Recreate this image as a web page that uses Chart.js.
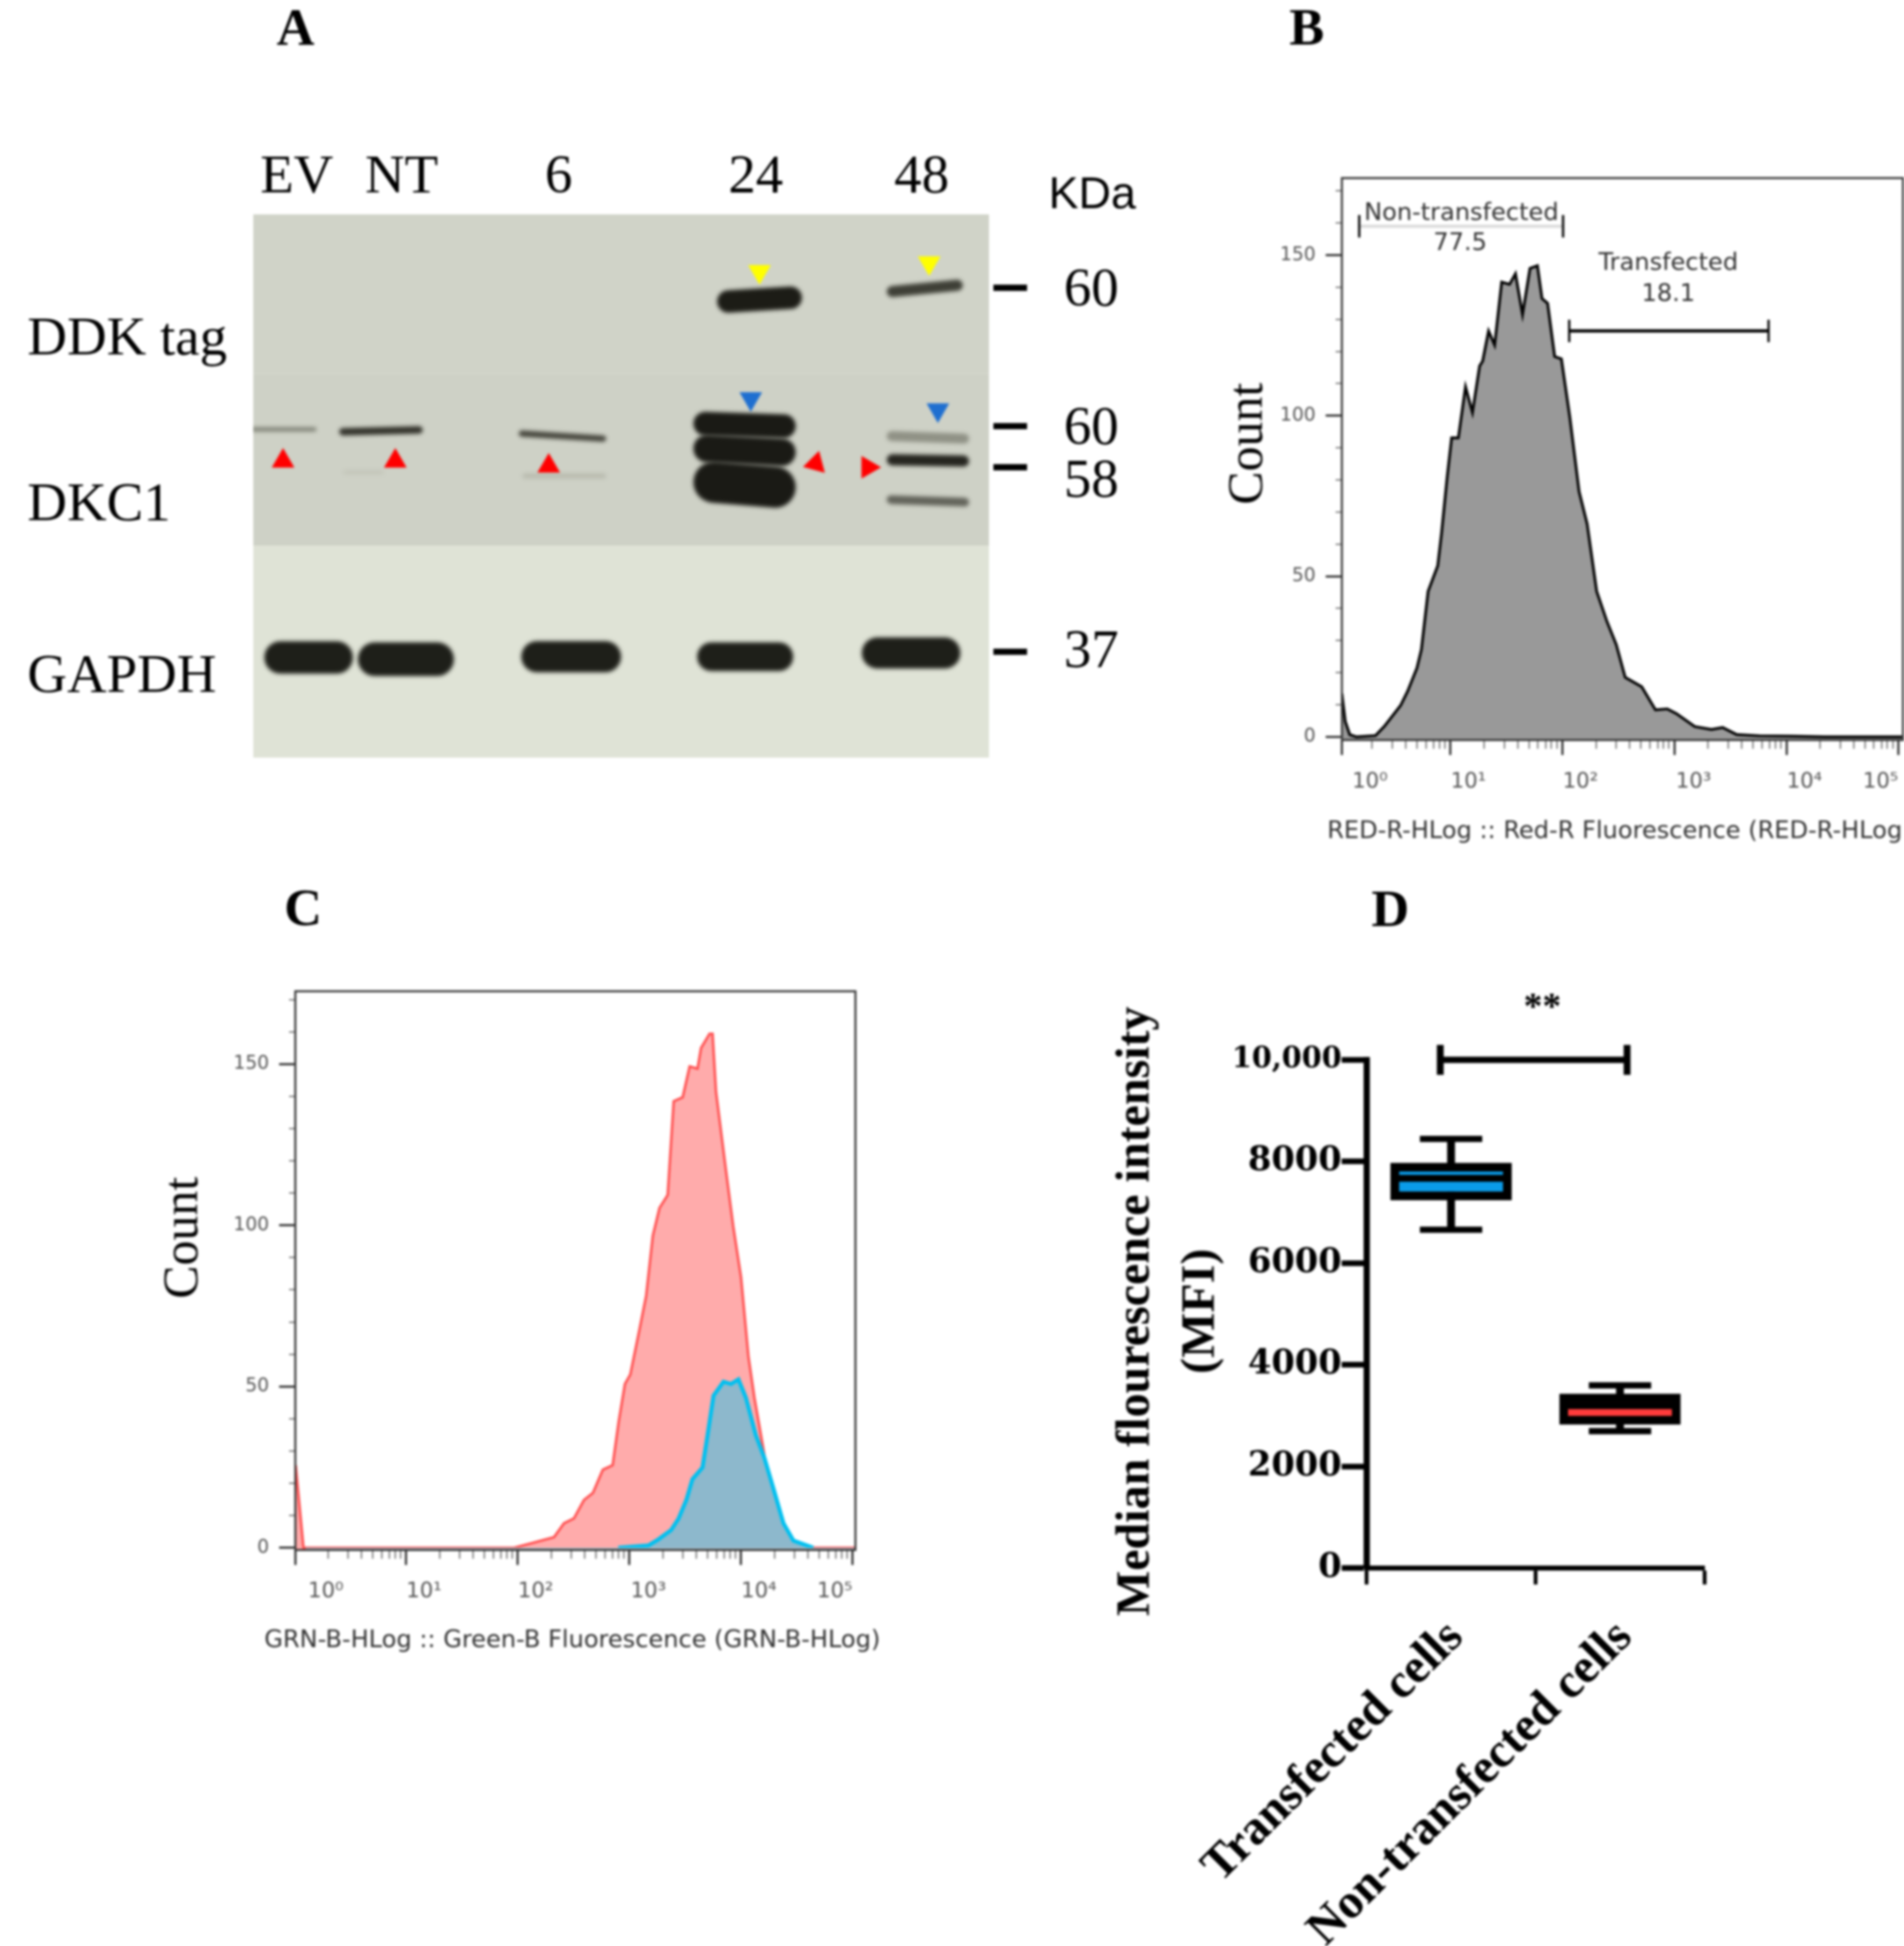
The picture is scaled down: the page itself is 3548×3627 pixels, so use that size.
<!DOCTYPE html>
<html>
<head>
<meta charset="utf-8">
<script src="https://cdn.jsdelivr.net/npm/chart.js@4"></script>
<style>
  html, body { margin: 0; background: #fff; }
  #page { position: relative; width: 3548px; height: 3627px; overflow: hidden; background: #fff; filter: blur(2px); }
  canvas { position: absolute; }
  .note { position: absolute; white-space: nowrap; line-height: 1; color: #000; transform-origin: center; }
</style>
</head>
<body>
<div id="page"></div>
<script>
// Panel A, western blot. Units are blot units: 0..590 across, 0..436 down
const laneLabels = ["EV", "NT", "6", "24", "48"];
const lanePositions = [35, 119, 245, 403, 536];
const rowLabels = ["DDK tag", "DKC1", "GAPDH"];
const rowPositions = [101, 234, 372];
const kdaLabels = ["60", "60", "58", "37"];
const kdaLabelPositions = [62, 173, 215, 352];
const kdaMarkPositions = [59, 170, 203, 351];

const bandStartX = [372, 508, 0, 69, 213, 216, 74, 353, 353, 353, 508, 508, 508, 9, 84, 215, 356, 488];
const bandEndX = [440, 569, 49, 136, 283, 283, 103, 435, 435, 435, 574, 574, 574, 80, 161, 295, 433, 567];
const bandStartY = [70, 62, 172.6, 174.5, 176, 210, 207, 168, 188, 215, 178, 197, 229, 355.6, 357, 355, 355, 352];
const bandEndY = [67, 57, 172.6, 173, 180, 210, 207, 170, 191, 219, 180, 198, 231, 355.6, 357, 355, 355, 352];
const bandThickness = [18, 9, 3.5, 6, 5, 4, 3, 19, 22, 33, 8, 9, 7, 26, 27, 25, 23, 25];
const bandShades = ["#1c1c16", "#3e3f36", "#7f8276", "#33332b", "#44443b", "#b8baae", "#c2c4b8", "#1a1a15", "#1a1a15", "#1a1a15",
  "#8f9185", "#25251f", "#62635a", "#1e1f19", "#1e1f19", "#1e1f19", "#1e1f19", "#1e1f19"];

const blotSections = [[0, 128], [128, 266], [266, 436]];
const blotSectionColors = ["#d0d3c8", "#ced1c6", "#dfe3d6"];

const yellowArrowX = [406, 542], yellowArrowY = [46, 39];
const blueArrowX = [399, 549], blueArrowY = [148, 157];
const redUpArrowX = [24, 114, 237], redUpArrowY = [198, 198, 202];
const redLeftArrowX = [451], redLeftArrowY = [200];
const redRightArrowX = [493], redRightArrowY = [203];

// Panel B, histogram (x is log10 of fluorescence)
const grayDecades = [0.03, 0.06, 0.10, 0.16, 0.33, 0.41, 0.555, 0.617, 0.70, 0.74, 0.80, 0.886, 0.92, 0.97, 1.01, 1.07, 1.134, 1.196, 1.26, 1.287,
  1.34, 1.394, 1.457, 1.527, 1.58, 1.643, 1.71, 1.776, 1.817, 1.867, 1.93, 1.99, 2.065, 2.148, 2.22, 2.305, 2.397, 2.48, 2.56, 2.707,
  2.83, 2.935, 3.018, 3.18, 3.33, 3.43, 3.555, 3.76, 4.05, 4.34, 5.03];
const grayCounts = [13.5, 4.8, 0.7, 0, 0.4, 3.3, 9.8, 14.2, 21.4, 27.2, 45.3, 53.3, 63.4, 80.8, 93.1, 93.1, 109, 101, 115.5, 117,
  126.4, 122, 141.6, 140.9, 144.2, 131.5, 145.9, 146.7, 136.5, 135, 118.4, 117.7, 99.6, 76.4, 66.3, 45.3, 35.9, 28.7, 18.5, 15.6,
  8.4, 8.7, 7.2, 3.2, 2.3, 2.9, 0.7, 0.3, 0.2, 0, 0];
const nonTransfectedGateX = [0.185, 2.005], nonTransfectedGateY = [159, 159];
const transfectedGateX = [2.06, 3.84], transfectedGateY = [126.4, 126.4];

// Panel C, overlaid histograms
const redDecades = [0.01, 0.08, 1.63, 1.967, 2.146, 2.325, 2.414, 2.503, 2.593, 2.673, 2.762, 2.85, 2.905, 2.96, 3.008, 3.084, 3.15, 3.21, 3.27, 3.343,
  3.397, 3.477, 3.54, 3.61, 3.642, 3.718, 3.745, 3.776, 3.865, 3.93, 4.0, 4.066, 4.12, 4.222, 4.29, 4.38, 4.514, 5.02];
const redCounts = [25.6, 0, 0, 0, 1.6, 3.3, 7.6, 9.1, 14.8, 17, 24.2, 25.6, 39.3, 50.8, 53.7, 66.6, 78.1, 96.8, 105.4, 109.4,
  138.5, 139.7, 149.3, 148.6, 155, 159.4, 159.4, 141.4, 117, 99.7, 83.9, 59.4, 46.5, 26.3, 13.4, 4, 0, 0];
const blueDecades = [2.90, 3.17, 3.26, 3.374, 3.44, 3.51, 3.565, 3.655, 3.70, 3.754, 3.843, 3.91, 3.977, 4.044, 4.133, 4.21, 4.29, 4.38, 4.47, 4.647];
const blueCounts = [0, 0.7, 2.6, 5.5, 9, 14.8, 21.3, 24.9, 34.9, 47.2, 51.5, 50.8, 52.2, 46.5, 34.9, 27.8, 18.4, 7.6, 2.2, 0];

// Histogram axes, shared by B and C
const countTicks = [0, 50, 100, 150];
const countMinorTicks = [10, 20, 30, 40, 60, 70, 80, 90, 110, 120, 130, 140, 160, 170];
const decadeTicks = [0, 1, 2, 3, 4, 5];
const decadeLabels = ["10\u2070", "10\u00b9", "10\u00b2", "10\u00b3", "10\u2074", "10\u2075"];
const decadeLabelPositions = [0.28, 1.16, 2.16, 3.17, 4.16, 4.84];
const decadeFractions = [0.30, 0.48, 0.60, 0.70, 0.78, 0.85, 0.90, 0.95];

// Panel D, box plot
const cellGroups = ["Transfected cells", "Non-transfected cells"];
const whiskerLow = [6659, 2697];
const boxLow = [7242, 2830];
const medians = [7670, 3200];
const boxHigh = [7971, 3431];
const whiskerHigh = [8445, 3597];
const mfiTicks = [0, 2000, 4000, 6000, 8000, 10000];
const mfiTickLabels = ["0", "2000", "4000", "6000", "8000", "10,000"];
const bracketX = [0.218, 0.771], bracketY = [10000, 10000];

// everything below is laid out in units of a 1527 wide drawing
const S = 3548 / 1527;
const SERIF = "'Liberation Serif'";
const SANS = "'DejaVu Sans'";
const page = document.getElementById("page");

Chart.defaults.animation = false;
Chart.defaults.responsive = false;
Chart.defaults.devicePixelRatio = 1;
Chart.defaults.plugins.legend.display = false;
Chart.defaults.plugins.tooltip.enabled = false;

function note(text, x, y, size, font, opts = {}) {
  const el = document.createElement("div");
  el.className = "note";
  el.textContent = text;
  el.style.left = x * S + "px";
  el.style.top = y * S + "px";
  el.style.fontFamily = font;
  el.style.fontSize = size * S + "px";
  el.style.fontWeight = opts.bold ? "bold" : "normal";
  el.style.color = opts.color || "#000";
  el.style.transform = `translate(-50%,-50%) rotate(${opts.rotate || 0}deg)`;
  page.appendChild(el);
}

// area = [left, top, right, bottom] of the plot area on the page
function makeCanvas(box, area) {
  const c = document.createElement("canvas");
  c.width = Math.round(box[2] * S);
  c.height = Math.round(box[3] * S);
  c.style.left = box[0] * S + "px";
  c.style.top = box[1] * S + "px";
  page.appendChild(c);
  return {
    canvas: c,
    margin: {
      left: (area[0] - box[0]) * S,
      top: (area[1] - box[1]) * S,
      right: (box[0] + box[2] - area[2]) * S,
      bottom: (box[1] + box[3] - area[3]) * S
    }
  };
}

const fixedTicks = values => scale => { scale.ticks = values.map(v => ({ value: v })); };
const widthOf = n => scale => { scale.width = n; };
const heightOf = n => scale => { scale.height = n; };
const toPoints = (xs, ys) => xs.map((x, i) => ({ x: x, y: ys[i] }));
// chart.js paints the first dataset last, these lists are written bottom layer first
const bottomUp = list => list.slice().reverse();
const noGrid = { display: false };

const framePlugin = {
  id: "frame",
  afterDatasetsDraw(chart) {
    const { ctx, chartArea: a } = chart;
    ctx.save();
    ctx.strokeStyle = "#333";
    ctx.lineWidth = 1.6 * S;
    ctx.strokeRect(a.left, a.top, a.right - a.left, a.bottom - a.top);
    ctx.restore();
  }
};

// soft edges for the blot bands
const bandBlurPlugin = {
  id: "bandBlur",
  beforeDatasetDraw(chart, args) {
    const blur = chart.data.datasets[args.index].blurBy;
    if (blur) {
      chart.ctx.save();
      chart.ctx.filter = `blur(${blur}px)`;
    }
  },
  afterDatasetDraw(chart, args) {
    if (chart.data.datasets[args.index].blurBy) chart.ctx.restore();
  }
};

function histScales(xMin, xMax, yMin, yMax, margin) {
  const minorX = [];
  decadeTicks.slice(0, 5).forEach(d => decadeFractions.forEach(f => minorX.push(d + f)));
  const majorX = decadeTicks.map(d => Math.max(d, xMin));
  const common = { type: "linear", border: { display: false } };
  return {
    x: {
      ...common, position: "bottom", min: xMin, max: xMax, weight: 1,
      afterBuildTicks: fixedTicks(decadeLabelPositions), afterFit: heightOf(margin.bottom),
      grid: { display: false },
      ticks: {
        autoSkip: false, maxRotation: 0, padding: 20 * S, color: "#555",
        font: { family: SANS, size: 17 * S },
        callback: v => decadeLabels[decadeLabelPositions.indexOf(v)]
      }
    },
    xMajor: {
      ...common, position: "bottom", min: xMin, max: xMax, weight: 0,
      afterBuildTicks: fixedTicks(majorX), afterFit: heightOf(0),
      grid: { drawOnChartArea: false, tickLength: 12 * S, tickWidth: 1.6 * S, tickColor: "#222" },
      ticks: { autoSkip: false, maxRotation: 0, callback: () => "" }
    },
    xMinor: {
      ...common, position: "bottom", min: xMin, max: xMax, weight: 0,
      afterBuildTicks: fixedTicks(minorX), afterFit: heightOf(0),
      grid: { drawOnChartArea: false, tickLength: 7 * S, tickWidth: 0.9 * S, tickColor: "#555" },
      ticks: { autoSkip: false, maxRotation: 0, callback: () => "" }
    },
    y: {
      ...common, position: "left", min: yMin, max: yMax, weight: 1,
      afterBuildTicks: fixedTicks(countTicks), afterFit: widthOf(margin.left),
      grid: { drawOnChartArea: false, tickLength: 13 * S, tickWidth: 1.6 * S, tickColor: "#222" },
      ticks: { autoSkip: false, padding: 8 * S, color: "#555", font: { family: SANS, size: 15 * S }, callback: v => String(v) }
    },
    yMinor: {
      ...common, position: "left", min: yMin, max: yMax, weight: 0,
      afterBuildTicks: fixedTicks(countMinorTicks), afterFit: widthOf(0),
      grid: { drawOnChartArea: false, tickLength: 5 * S, tickWidth: 0.9 * S, tickColor: "#555" },
      ticks: { autoSkip: false, callback: () => "" }
    }
  };
}

function arrows(xs, ys, color, rotation, radius) {
  return {
    data: toPoints(xs, ys), showLine: false, clip: false, blurBy: 1,
    pointStyle: "triangle", pointRotation: rotation, pointRadius: radius * S, pointHoverRadius: 0,
    pointBackgroundColor: color, pointBorderWidth: 0
  };
}

function drawBlot() {
  const { canvas, margin } = makeCanvas([0, 100, 960, 560], [203, 172, 793, 608]);
  const datasets = [];
  blotSections.forEach((sec, i) => {
    datasets.push({
      data: toPoints([0, 590], [sec[0], sec[0]]), borderWidth: 0, pointRadius: 0,
      fill: { value: sec[1] }, backgroundColor: blotSectionColors[i]
    });
  });
  bandStartX.forEach((x0, i) => {
    const t = bandThickness[i];
    const endsIn = t > 3.5 ? t / 2 : 0;
    datasets.push({
      data: toPoints([x0 + endsIn, bandEndX[i] - endsIn], [bandStartY[i], bandEndY[i]]),
      borderColor: bandShades[i], borderWidth: t * S, borderCapStyle: "round",
      pointRadius: 0, tension: 0, blurBy: 1.6 * S
    });
  });
  datasets.push(arrows(yellowArrowX, yellowArrowY, "#ffff00", 180, 10.5));
  datasets.push(arrows(blueArrowX, blueArrowY, "#1f6fd0", 180, 10.5));
  datasets.push(arrows(redUpArrowX, redUpArrowY, "#ff0000", 0, 10.5));
  datasets.push(arrows(redLeftArrowX, redLeftArrowY, "#ff0000", 255, 10.5));
  datasets.push(arrows(redRightArrowX, redRightArrowY, "#ff0000", 90, 10.5));
  // one dataset per mark, they all sit right of the x range
  kdaMarkPositions.forEach(y => {
    datasets.push({
      data: toPoints([607], [y]), showLine: false, clip: false,
      pointStyle: "line", pointRadius: 13.5 * S, pointHoverRadius: 0, pointBorderColor: "#000", pointBorderWidth: 5 * S
    });
  });

  new Chart(canvas, {
    type: "line",
    data: { datasets: bottomUp(datasets) },
    plugins: [bandBlurPlugin],
    options: {
      layout: { padding: { left: 22 * S, right: 63 * S, bottom: margin.bottom } },
      scales: {
        x: {
          type: "linear", position: "top", min: 0, max: 590,
          afterBuildTicks: fixedTicks(lanePositions), afterFit: heightOf(margin.top),
          grid: noGrid, border: { display: false },
          ticks: {
            autoSkip: false, maxRotation: 0, padding: -1 * S, color: "#000",
            font: { family: SERIF, size: 44 * S },
            callback: v => laneLabels[lanePositions.indexOf(v)]
          }
        },
        y: {
          type: "linear", position: "right", reverse: true, min: 0, max: 436,
          afterBuildTicks: fixedTicks(kdaLabelPositions), afterFit: widthOf(104 * S),
          grid: noGrid, border: { display: false },
          ticks: {
            autoSkip: false, crossAlign: "far", color: "#000",
            font: { family: SERIF, size: 44 * S },
            callback: v => kdaLabels[kdaLabelPositions.indexOf(v)]
          }
        },
        yRows: {
          type: "linear", position: "left", reverse: true, min: 0, max: 436,
          afterBuildTicks: fixedTicks(rowPositions), afterFit: widthOf(181 * S),
          grid: noGrid, border: { display: false },
          ticks: {
            autoSkip: false, crossAlign: "far", color: "#000",
            font: { family: SERIF, size: 44 * S },
            callback: v => rowLabels[rowPositions.indexOf(v)]
          }
        }
      }
    }
  });
}

function drawPanelB() {
  const { canvas, margin } = makeCanvas([960, 100, 640, 620], [1076, 143, 1526, 593.6]);
  const gate = (xs, ys, lineColor) => ({
    data: toPoints(xs, ys), borderColor: lineColor, borderWidth: 2.6 * S, clip: false,
    pointStyle: "line", pointRotation: 90, pointRadius: 9 * S, pointHoverRadius: 0,
    pointBorderColor: "#000", pointBorderWidth: 1.8 * S
  });
  new Chart(canvas, {
    type: "line",
    data: {
      datasets: bottomUp([
        {
          data: toPoints(grayDecades, grayCounts), borderColor: "#000", borderWidth: 2.2 * S, tension: 0,
          pointRadius: 0, fill: "start", backgroundColor: "#999999"
        },
        gate(nonTransfectedGateX, nonTransfectedGateY, "#dcdcdc"),
        gate(transfectedGateX, transfectedGateY, "#000")
      ])
    },
    plugins: [framePlugin],
    options: {
      layout: { padding: { top: margin.top, right: margin.right } },
      scales: histScales(0.03, 5.04, -1, 174, margin)
    }
  });
  note("Count", 999, 356, 40, SERIF, { rotate: -90 });
  note("Non-transfected", 1172, 170, 19.3, SANS, { color: "#333" });
  note("77.5", 1171, 194, 19.3, SANS, { color: "#333" });
  note("Transfected", 1338, 210, 19.3, SANS, { color: "#333" });
  note("18.1", 1338, 235, 19.3, SANS, { color: "#333" });
  note("RED-R-HLog :: Red-R Fluorescence (RED-R-HLog", 1295, 666, 19.3, SANS, { color: "#333" });
}

function drawPanelC() {
  const { canvas, margin } = makeCanvas([100, 750, 660, 620], [237, 795, 686, 1243]);
  new Chart(canvas, {
    type: "line",
    data: {
      datasets: bottomUp([
        {
          data: toPoints(redDecades, redCounts), borderColor: "#ff5050", borderWidth: 2 * S, tension: 0,
          pointRadius: 0, fill: "start", backgroundColor: "#ffabab"
        },
        {
          data: toPoints(blueDecades, blueCounts), borderColor: "#00c0f0", borderWidth: 3.2 * S, tension: 0,
          pointRadius: 0, fill: "start", backgroundColor: "#8db8cc"
        },
        {
          data: toPoints([0.1, 5.02], [-0.3, -0.3]), borderColor: "#a9bfcb", borderWidth: 1.6 * S, pointRadius: 0
        }
      ])
    },
    plugins: [framePlugin],
    options: {
      layout: { padding: { top: margin.top, right: margin.right } },
      scales: histScales(0.007, 5.025, -0.7, 172.6, margin)
    }
  });
  note("Count", 145, 993, 40, SERIF, { rotate: -90 });
  note("GRN-B-HLog :: Green-B Fluorescence (GRN-B-HLog)", 459, 1315, 19.3, SANS, { color: "#333" });
}

function drawPanelD() {
  const { canvas, margin } = makeCanvas([850, 790, 600, 771], [1096, 850, 1367, 1258]);
  const caps = (values, radius, order, width) => ({
    type: "line", data: values, showLine: false, order: order, clip: false,
    pointStyle: "line", pointRadius: radius * S, pointHoverRadius: 0,
    pointBorderColor: "#000", pointBorderWidth: width * S
  });
  new Chart(canvas, {
    data: {
      labels: cellGroups,
      datasets: [
        {
          type: "bar", order: 3, grouped: false, barThickness: 6 * S, backgroundColor: "#000",
          data: whiskerLow.map((lo, i) => [lo, whiskerHigh[i]])
        },
        {
          type: "bar", order: 2, grouped: false, barThickness: 97 * S, borderSkipped: false,
          borderWidth: 7 * S, borderColor: "#000", backgroundColor: ["#0a9be8", "#ff3b3b"],
          data: boxLow.map((lo, i) => [lo, boxHigh[i]])
        },
        caps(whiskerLow, 25, 1, 5),
        caps(whiskerHigh, 25, 1, 5),
        caps(medians, 46, 1, 5.5),
        {
          type: "line", xAxisID: "xBracket", order: 1, clip: false,
          data: toPoints(bracketX, bracketY), borderColor: "#000", borderWidth: 5 * S,
          pointStyle: "line", pointRotation: 90, pointRadius: 12 * S, pointHoverRadius: 0,
          pointBorderColor: "#000", pointBorderWidth: 5.5 * S
        }
      ]
    },
    options: {
      layout: { padding: { top: margin.top, right: margin.right } },
      scales: {
        x: {
          type: "category", position: "bottom", afterFit: heightOf(margin.bottom),
          grid: { drawOnChartArea: false, tickLength: 13 * S, tickWidth: 3 * S, tickColor: "#000" },
          border: { display: true, color: "#000", width: 4 * S },
          ticks: {
            autoSkip: false, minRotation: 45, maxRotation: 45, padding: 20 * S, labelOffset: 4 * S, color: "#000",
            font: { family: SERIF, weight: "bold", size: 39 * S }
          }
        },
        xBracket: { type: "linear", display: false, min: 0, max: 1 },
        y: {
          type: "linear", position: "left", min: 0, max: 10000, afterFit: widthOf(margin.left),
          afterBuildTicks: fixedTicks(mfiTicks),
          grid: { drawOnChartArea: false, tickLength: 20 * S, tickWidth: 4.5 * S, tickColor: "#000" },
          border: { display: true, color: "#000", width: 5 * S },
          ticks: {
            autoSkip: false, padding: 0, color: "#000",
            font: ctx => ({ family: "'DejaVu Serif'", weight: "bold", size: (ctx.tick && ctx.tick.value === 10000 ? 23 : 27) * S }),
            callback: v => mfiTickLabels[mfiTicks.indexOf(v)]
          }
        }
      }
    }
  });
  note("Median flourescence intensity", 908, 1052, 38.5, SERIF, { bold: true, rotate: -90 });
  note("(MFI)", 960, 1052, 38.5, SERIF, { bold: true, rotate: -90 });
  note("**", 1237, 807, 30, SERIF, { bold: true });
}

drawBlot();
drawPanelB();
drawPanelC();
drawPanelD();

note("A", 237, 22, 42, SERIF, { bold: true });
note("B", 1048, 22, 42, SERIF, { bold: true });
note("C", 243, 728, 42, SERIF, { bold: true });
note("D", 1115, 729, 42, SERIF, { bold: true });
note("KDa", 876, 155, 36, "'Liberation Sans'");
</script>
</body>
</html>
